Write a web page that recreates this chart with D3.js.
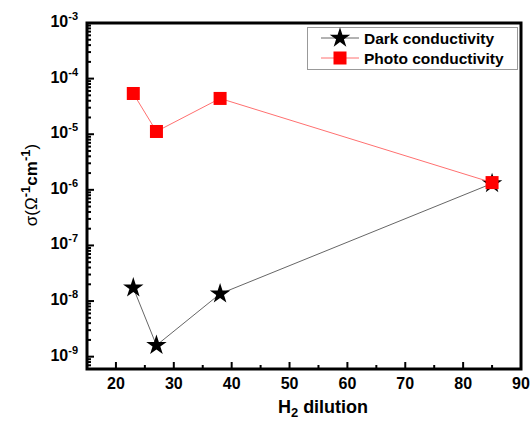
<!DOCTYPE html>
<html>
<head>
<meta charset="utf-8">
<script src="https://cdn.jsdelivr.net/npm/d3@7"></script>
<style>
  body { margin: 0; background: #fff; }
  svg { display: block; font-family: "Liberation Sans", Arial, sans-serif; font-weight: bold; }
</style>
</head>
<body>
<svg id="chart" width="532" height="421"></svg>
<script>
// H2 dilution values and measured conductivities (Ω^-1 cm^-1)
const dilution = [23, 27, 38, 85];
const darkConductivity = [1.73e-8, 1.6e-9, 1.35e-8, 1.3e-6];
const photoConductivity = [5.4e-5, 1.12e-5, 4.4e-5, 1.35e-6];
const xTicks = [20, 30, 40, 50, 60, 70, 80, 90];
const yExponents = [-3, -4, -5, -6, -7, -8, -9];

const margin = { left: 87, right: 11, top: 23, bottom: 52 };
const W = 532, H = 421;
const svg = d3.select("#chart");

const x = d3.scaleLinear().domain([15, 90]).range([margin.left, W - margin.right]);
const y = d3.scaleLog().domain([6e-10, 1e-3]).range([H - margin.bottom, margin.top]);

const x0 = x.range()[0], x1 = x.range()[1];
const y0 = y.range()[0], y1 = y.range()[1];

// Minor and major ticks on the left axis, pointing inward
const minorY = [];
for (let e = -10; e < -3; e++) {
  for (let m = 1; m <= 9; m++) {
    const v = m * Math.pow(10, e);
    if (v >= 6e-10 && v <= 1e-3) minorY.push({ v, major: m === 1 });
  }
}
minorY.push({ v: 1e-3, major: true });
svg.append("g").selectAll("line").data(minorY).join("line")
  .attr("x1", x0).attr("x2", d => x0 + (d.major ? 7 : 4))
  .attr("y1", d => y(d.v)).attr("y2", d => y(d.v))
  .attr("stroke", "#000").attr("stroke-width", 2);

// Ticks on the bottom axis, pointing inward
const xTickVals = d3.range(15, 91, 5);
svg.append("g").selectAll("line").data(xTickVals).join("line")
  .attr("x1", d => x(d)).attr("x2", d => x(d))
  .attr("y1", y0).attr("y2", d => y0 - (d % 10 === 0 ? 7 : 4))
  .attr("stroke", "#000").attr("stroke-width", 2);

// Frame
svg.append("rect")
  .attr("x", x0).attr("y", y1).attr("width", x1 - x0).attr("height", y0 - y1)
  .attr("fill", "none").attr("stroke", "#000").attr("stroke-width", 3);

// X tick labels
svg.append("g").selectAll("text").data(xTicks).join("text")
  .attr("x", d => x(d)).attr("y", y0 + 20)
  .attr("text-anchor", "middle").attr("font-size", 16)
  .text(d => d);

// Y tick labels as powers of ten
const yl = svg.append("g").selectAll("text").data(yExponents).join("text")
  .attr("x", x0 - 9).attr("y", d => y(Math.pow(10, d)) + 4)
  .attr("text-anchor", "end").attr("font-size", 16);
yl.append("tspan").text("10");
yl.append("tspan").attr("font-size", 11).attr("dy", -7).text(d => "-" + Math.abs(d));

// Axis titles
svg.append("text")
  .attr("x", 323).attr("y", 413).attr("text-anchor", "middle").attr("font-size", 18)
  .call(t => {
    t.append("tspan").text("H");
    t.append("tspan").attr("font-size", 13).attr("dy", 4).text("2");
    t.append("tspan").attr("dy", -4).text(" dilution");
  });

svg.append("text")
  .attr("transform", "translate(37,185) rotate(-90)")
  .attr("text-anchor", "middle").attr("font-size", 17)
  .call(t => {
    t.append("tspan").attr("font-weight", "normal").text("σ(Ω");
    t.append("tspan").attr("font-size", 13).attr("dy", -7).text("-1");
    t.append("tspan").attr("dy", 7).text("cm");
    t.append("tspan").attr("font-size", 13).attr("dy", -7).text("-1");
    t.append("tspan").attr("dy", 7).attr("font-weight", "normal").text(")");
  });

// Series
const dark = dilution.map((d, i) => [d, darkConductivity[i]]);
const photo = dilution.map((d, i) => [d, photoConductivity[i]]);
const line = d3.line().x(d => x(d[0])).y(d => y(d[1]));

svg.append("path").datum(dark).attr("d", line)
  .attr("fill", "none").attr("stroke", "#666").attr("stroke-width", 1);
const star = d3.symbol().type(d3.symbolStar).size(130);
svg.append("g").selectAll("path").data(dark).join("path")
  .attr("d", star)
  .attr("transform", d => `translate(${x(d[0])},${y(d[1])})`)
  .attr("fill", "#000");

svg.append("path").datum(photo).attr("d", line)
  .attr("fill", "none").attr("stroke", "#ff7070").attr("stroke-width", 1);
svg.append("g").selectAll("rect").data(photo).join("rect")
  .attr("x", d => x(d[0]) - 6.5).attr("y", d => y(d[1]) - 6.5)
  .attr("width", 13).attr("height", 13)
  .attr("fill", "#ff0000");

// Legend
const lg = svg.append("g");
lg.append("rect").attr("x", 307.5).attr("y", 27.5).attr("width", 210).attr("height", 42)
  .attr("fill", "#fff").attr("stroke", "#999").attr("stroke-width", 1);
const items = [
  { label: "Dark conductivity", color: "#000", lineColor: "#666", kind: "star", yy: 38 },
  { label: "Photo conductivity", color: "#ff0000", lineColor: "#ff7070", kind: "square", yy: 58 }
];
items.forEach(it => {
  lg.append("line").attr("x1", 321).attr("x2", 359).attr("y1", it.yy).attr("y2", it.yy)
    .attr("stroke", it.lineColor).attr("stroke-width", 1);
  if (it.kind === "star") {
    lg.append("path").attr("d", star).attr("transform", `translate(340,${it.yy})`).attr("fill", it.color);
  } else {
    lg.append("rect").attr("x", 333.5).attr("y", it.yy - 6.5).attr("width", 13).attr("height", 13).attr("fill", it.color);
  }
  lg.append("text").attr("x", 364).attr("y", it.yy + 5.5).attr("font-size", 15.5).text(it.label);
});
</script>
</body>
</html>
